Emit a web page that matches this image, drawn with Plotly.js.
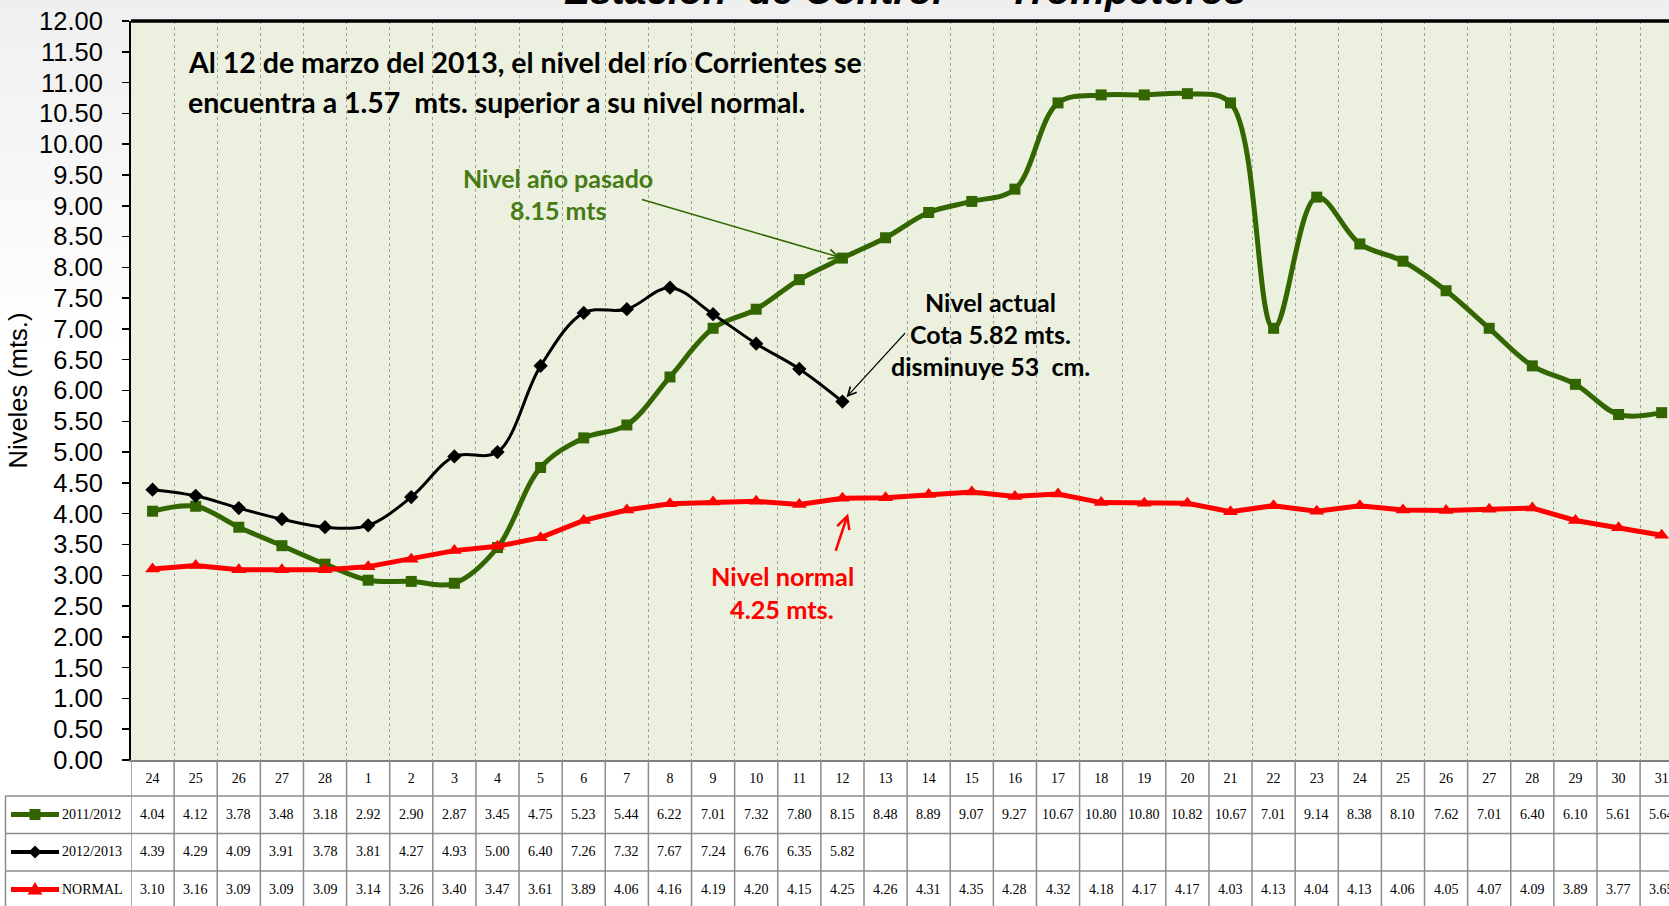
<!DOCTYPE html>
<html>
<head>
<meta charset="utf-8">
<script src="https://cdn.plot.ly/plotly-3.0.1.min.js"></script>
<style>html,body{margin:0;padding:0;background:#fff;}#chart{width:1669px;height:906px;}</style>
</head>
<body>
<div id="chart"></div>
<script>
// ---------- data ----------
const days = [24,25,26,27,28,1,2,3,4,5,6,7,8,9,10,11,12,13,14,15,16,17,18,19,20,21,22,23,24,25,26,27,28,29,30,31];
const nivel2011 = [4.04,4.12,3.78,3.48,3.18,2.92,2.90,2.87,3.45,4.75,5.23,5.44,6.22,7.01,7.32,7.80,8.15,8.48,8.89,9.07,9.27,10.67,10.80,10.80,10.82,10.67,7.01,9.14,8.38,8.10,7.62,7.01,6.40,6.10,5.61,5.64];
const nivel2012 = [4.39,4.29,4.09,3.91,3.78,3.81,4.27,4.93,5.00,6.40,7.26,7.32,7.67,7.24,6.76,6.35,5.82,null,null,null,null,null,null,null,null,null,null,null,null,null,null,null,null,null,null,null];
const nivelNormal = [3.10,3.16,3.09,3.09,3.09,3.14,3.26,3.40,3.47,3.61,3.89,4.06,4.16,4.19,4.20,4.15,4.25,4.26,4.31,4.35,4.28,4.32,4.18,4.17,4.17,4.03,4.13,4.04,4.13,4.06,4.05,4.07,4.09,3.89,3.77,3.65];
const seriesNames = ['2011/2012','2012/2013','NORMAL'];
const idx = days.map((d,i)=>i);

// ---------- geometry helpers (layout only) ----------
const W = 1669, H = 906, L = 131, T = 21, B = 760;
const PW = W - L, PH = B - T;
const px2x = X => (X - L) / PW;
const py2y = Y => (B - Y) / PH;

const GREEN = '#336600', GREEN_TXT = '#467A14', RED = '#FF0000';
const SERIF = 'Liberation Serif, Times New Roman, serif';
const SANS = 'Liberation Sans, Arial, sans-serif';
const CAL = 'Lato, Carlito, Calibri, sans-serif';

const traces = [
  {x: idx, y: nivel2011, name: seriesNames[0], mode: 'lines+markers',
   line: {color: GREEN, width: 5, shape: 'spline', smoothing: 1},
   marker: {symbol: 'square', size: 11, color: GREEN}},
  {x: idx, y: nivel2012, name: seriesNames[1], mode: 'lines+markers',
   line: {color: '#000000', width: 3, shape: 'spline', smoothing: 1},
   marker: {symbol: 'diamond', size: 11, color: '#000000'}, connectgaps: false},
  {x: idx, y: nivelNormal, name: seriesNames[2], mode: 'lines+markers',
   line: {color: RED, width: 5},
   marker: {symbol: 'triangle-up', size: 13, color: RED}}
];

// ---------- table geometry ----------
const rowTops = [796, 833.5, 871, 908];
const rowCenters = [814.5, 852, 889.5];
const tableData = [nivel2011, nivel2012, nivelNormal];

const shapes = [];
const annotations = [];

// plot background rect
shapes.push({type:'rect', xref:'paper', yref:'paper', x0:0, x1:1.01, y0:0, y1:1,
  fillcolor:'#EBF1DE', line:{width:0}, layer:'below'});
// top border
shapes.push({type:'line', xref:'paper', yref:'paper', x0:0, x1:1.01, y0:1, y1:1,
  line:{color:'#000', width:3.5}, layer:'above'});

// table vertical lines at category boundaries
for (let k = -1; k < days.length; k++) {
  shapes.push({type:'line', xref:'x', yref:'paper', x0:k+0.5, x1:k+0.5,
    y0:0, y1:py2y(912), line:{color:'#8C8C8C', width:1.5}, layer:'above'});
}
// table horizontal lines
rowTops.slice(0,3).forEach(Y => {
  shapes.push({type:'line', xref:'paper', yref:'paper', x0:px2x(5), x1:1.01,
    y0:py2y(Y), y1:py2y(Y), line:{color:'#8C8C8C', width:1.5}, layer:'above'});
});
// legend column left border
shapes.push({type:'line', xref:'paper', yref:'paper', x0:px2x(5.5), x1:px2x(5.5),
  y0:py2y(796), y1:py2y(912), line:{color:'#8C8C8C', width:1.5}, layer:'above'});

// legend keys in the table
const keyColors = [GREEN, '#000000', RED];
const keyWidths = [5, 4, 5];
const keyPaths = [
  'M-5.5,-5.5 L5.5,-5.5 L5.5,5.5 L-5.5,5.5 Z',
  'M0,-6.5 L6.5,0 L0,6.5 L-6.5,0 Z',
  'M-7.5,-5 L7.5,-5 L0,7.5 Z'
];
seriesNames.forEach((nm, r) => {
  const yc = py2y(rowCenters[r]);
  shapes.push({type:'line', xref:'paper', yref:'paper', x0:px2x(11), x1:px2x(59),
    y0:yc, y1:yc, line:{color:keyColors[r], width:keyWidths[r]}, layer:'above'});
  shapes.push({type:'path', xref:'paper', yref:'paper', xsizemode:'pixel', ysizemode:'pixel',
    xanchor:px2x(35), yanchor:yc, path:keyPaths[r], fillcolor:keyColors[r],
    line:{width:0}, layer:'above'});
  annotations.push({xref:'paper', yref:'paper', x:px2x(60), y:yc, xanchor:'left', yanchor:'middle',
    text:nm, showarrow:false, font:{family:SERIF, size:14, color:'#000'}});
  tableData[r].forEach((v, i) => {
    if (v === null) return;
    annotations.push({xref:'x', yref:'paper', x:i, y:yc, xanchor:'center', yanchor:'middle',
      text:v.toFixed(2), showarrow:false, font:{family:SERIF, size:14, color:'#000'}});
  });
});

// chart title (cut off at the top like the original)
annotations.push({xref:'paper', yref:'paper', x:px2x(905), y:py2y(14), xanchor:'center', yanchor:'bottom',
  text:'Estación\u00A0 de Control\u00A0 –\u00A0 Trompeteros', showarrow:false,
  font:{family:SANS, size:39, color:'#000', weight:700, style:'italic'}});

// main note
function txt(s, X, Y, color, size, anchor) {
  annotations.push({xref:'paper', yref:'paper', x:px2x(X), y:py2y(Y), xanchor:anchor||'center', yanchor:'middle',
    text:s, showarrow:false, font:{family:CAL, size:size, color:color, weight:700}});
}
txt('Al 12 de marzo del 2013, el nivel del río Corrientes se', 186, 62, '#000', 28.5, 'left');
txt('encuentra a 1.57\u00A0 mts. superior a su nivel normal.', 186, 102, '#000', 28.5, 'left');
txt('Nivel año pasado', 558, 178, GREEN_TXT, 25);
txt('8.15 mts', 558, 210, GREEN_TXT, 25);
txt('Nivel actual', 990, 302, '#000', 25);
txt('Cota 5.82 mts.', 990, 334, '#000', 25);
txt('disminuye 53\u00A0 cm.', 990, 366, '#000', 25);
txt('Nivel normal', 782, 576, RED, 25.3);
txt('4.25 mts.', 782, 609, RED, 25.3);

// arrows pointing at the 12 March values
const i12 = 16;
annotations.push({xref:'x', yref:'y', x:i12, y:nivel2011[i12], text:'', showarrow:true,
  ax:-202, ay:-59, arrowhead:5, arrowsize:1.3, arrowwidth:1.5, arrowcolor:GREEN, standoff:2});
annotations.push({xref:'x', yref:'y', x:i12, y:nivel2012[i12], text:'', showarrow:true,
  ax:64, ay:-70, arrowhead:5, arrowsize:1.3, arrowwidth:1.3, arrowcolor:'#000', standoff:6});
annotations.push({xref:'x', yref:'y', x:i12 + 0.25, y:nivelNormal[i12], text:'', showarrow:true,
  ax:-18, ay:54, arrowhead:5, arrowsize:1, arrowwidth:2.5, arrowcolor:RED, standoff:16});

// background gradient image
const gsvg = "<svg xmlns='http://www.w3.org/2000/svg' width='10' height='100' preserveAspectRatio='none'>" +
  "<defs><linearGradient id='g' x1='0' y1='0' x2='0' y2='1'>" +
  "<stop offset='0' stop-color='#EFEFEF'/><stop offset='0.38' stop-color='#FFFFFF'/><stop offset='1' stop-color='#FFFFFF'/>" +
  "</linearGradient></defs><rect width='10' height='100' fill='url(#g)'/></svg>";
const images = [{source:'data:image/svg+xml;charset=utf-8,' + encodeURIComponent(gsvg),
  xref:'paper', yref:'paper', x:px2x(0), y:py2y(0), sizex:W/PW, sizey:H/PH,
  xanchor:'left', yanchor:'top', sizing:'stretch', layer:'below'}];

const boundaries = idx.map(i => i + 0.5);

const layout = {
  width: W, height: H, autosize: false,
  margin: {l: L, r: 0, t: T, b: H - B, pad: 0},
  paper_bgcolor: '#FFFFFF', plot_bgcolor: 'rgba(0,0,0,0)',
  showlegend: false,
  xaxis: {
    range: [-0.5, 35.17], fixedrange: true,
    tickmode: 'array', tickvals: idx, ticktext: days.map(String),
    ticks: '', ticklabelstandoff: 4,
    tickfont: {family: SERIF, size: 14, color: '#000'},
    showline: true, linecolor: '#808080', linewidth: 2,
    showgrid: false, zeroline: false,
    minor: {tickmode: 'array', tickvals: boundaries, showgrid: true, griddash: 'dot',
            gridcolor: '#A0A0A0', gridwidth: 1, ticks: ''}
  },
  yaxis: {
    range: [0, 12], fixedrange: true,
    tick0: 0, dtick: 0.5, tickformat: '.2f',
    ticks: 'outside', ticklen: 7, tickwidth: 1.5, tickcolor: '#000',
    ticklabelstandoff: 14,
    tickfont: {family: SANS, size: 25.5, color: '#000'},
    showline: true, linecolor: '#000', linewidth: 2,
    showgrid: false, zeroline: false,
    title: {text: 'Niveles (mts.)', font: {family: SANS, size: 25.5, color: '#000'}, standoff: 4}
  },
  shapes: shapes,
  annotations: annotations,
  images: images
};

Plotly.newPlot('chart', traces, layout, {displayModeBar: false, staticPlot: true});
</script>
</body>
</html>
